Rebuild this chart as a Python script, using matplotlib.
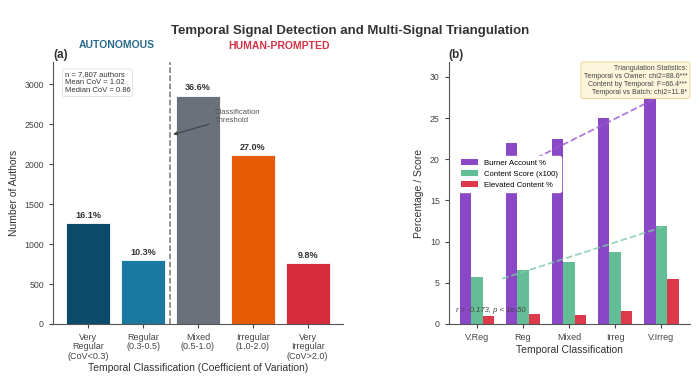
import numpy as np
import matplotlib
matplotlib.use("Agg")
import matplotlib.pyplot as plt

plt.rcParams['font.family'] = ['Liberation Sans', 'DejaVu Sans']

# panel (a) data
classes = ["Very\nRegular\n(CoV<0.3)", "Regular\n(0.3-0.5)", "Mixed\n(0.5-1.0)",
           "Irregular\n(1.0-2.0)", "Very\nIrregular\n(CoV>2.0)"]
counts = [1257, 804, 2857, 2108, 765]
pcts = [16.1, 10.3, 36.6, 27.0, 9.8]
colors_a = ["#0c4a6a", "#1b78a0", "#6b717b", "#e55c05", "#d62a3d"]

# panel (b) data
short_names = ["V.Reg", "Reg", "Mixed", "Irreg", "V.Irreg"]
burner = [18.5, 22.0, 22.5, 25.0, 30.3]
content = [5.7, 6.5, 7.5, 8.75, 11.9]
elevated = [1.0, 1.2, 1.05, 1.6, 5.5]
trend_x = [0.55, 4.1]
burner_trend = [18.1, 28.0]
content_trend = [5.5, 11.9]

fig = plt.figure(figsize=(7, 3.92), dpi=100)
ax1 = fig.add_axes([0.0757, 0.1735, 0.414, 0.668])
ax2 = fig.add_axes([0.641, 0.1735, 0.344, 0.668])

fig.suptitle("Temporal Signal Detection and Multi-Signal Triangulation",
             fontsize=9.5, fontweight='bold', color='#333333', y=0.922, va='center')

# ---- (a)
x = np.arange(len(classes))
bars = ax1.bar(x, counts, width=0.8, color=colors_a, edgecolor='white', linewidth=0.6)
for b, p in zip(bars, pcts):
    ax1.text(b.get_x() + b.get_width() / 2, b.get_height() + 40, f"{p:.1f}%",
             ha='center', va='bottom', fontsize=6.5, fontweight='bold', color='#333333')
ax1.axvline(1.5, color='#777777', linestyle='--', linewidth=1.1)
ax1.annotate("Classification\nThreshold", xy=(1.5, 2360), xytext=(2.3, 2600),
             fontsize=5.5, color='#555555', va='center',
             arrowprops=dict(arrowstyle='->', color='#444444', lw=0.9))
ax1.text(0.04, 0.965, "n = 7,807 authors\nMean CoV = 1.02\nMedian CoV = 0.86",
         transform=ax1.transAxes, fontsize=5.5, va='top', color='#333333',
         bbox=dict(boxstyle='round,pad=0.3', fc='white', ec='#dddddd', lw=0.6))
ax1.text(0.22, 1.055, "AUTONOMOUS", transform=ax1.transAxes, ha='center',
         fontsize=7.5, fontweight='bold', color='#2a6a8c')
ax1.text(0.78, 1.05, "HUMAN-PROMPTED", transform=ax1.transAxes, ha='center',
         fontsize=7.5, fontweight='bold', color='#d63347')
ax1.text(0.0, 1.015, "(a)", transform=ax1.transAxes, fontsize=8.5, fontweight='bold',
         color='#333333')
ax1.set_xticks(x)
ax1.set_xticklabels(classes, fontsize=6.5, color='#444444', linespacing=1.05)
ax1.tick_params(axis='y', labelsize=6.3, colors='#444444', length=3)
ax1.tick_params(axis='x', length=3, colors='#444444')
ax1.set_ylabel("Number of Authors", fontsize=7.5, color='#333333')
ax1.set_xlabel("Temporal Classification (Coefficient of Variation)", fontsize=7.5,
               color='#333333', labelpad=2)
ax1.set_ylim(0, 3275)

# ---- (b)
w = 0.25
ax2.plot(trend_x, burner_trend, linestyle='--', color='#9b59d0', linewidth=1.3, alpha=0.8, zorder=3)
ax2.plot(trend_x, content_trend, linestyle='--', color='#7cc9a6', linewidth=1.3, alpha=0.8, zorder=3)
ax2.bar(x - w, burner, width=w, color='#8a47c6', label='Burner Account %', zorder=2)
ax2.bar(x, content, width=w, color='#63bd96', label='Content Score (x100)', zorder=2)
ax2.bar(x + w, elevated, width=w, color='#dc3a4b', label='Elevated Content %', zorder=2)
ax2.set_xticks(x)
ax2.set_xticklabels(short_names, fontsize=6.5, color='#444444')
ax2.tick_params(axis='y', labelsize=6.3, colors='#444444', length=3)
ax2.tick_params(axis='x', length=3, colors='#444444')
ax2.set_ylabel("Percentage / Score", fontsize=7.5, color='#333333')
ax2.set_xlabel("Temporal Classification", fontsize=7.5, color='#333333', labelpad=2)
ax2.set_ylim(0, 31.8)
ax2.legend(loc='upper left', bbox_to_anchor=(0.02, 0.655), fontsize=5.6,
           frameon=True, framealpha=1, edgecolor='white', handlelength=2.2,
           borderpad=0.4, labelspacing=0.45)
ax2.text(0.03, 0.045, "r = -0.173, p < 1e-50", transform=ax2.transAxes,
         fontsize=5.5, style='italic', color='#444444', zorder=5)
ax2.text(0.99, 0.99, "Triangulation Statistics:\nTemporal vs Owner: chi2=88.6***\n"
         "Content by Temporal: F=66.4***\nTemporal vs Batch: chi2=11.8*",
         transform=ax2.transAxes, ha='right', va='top', fontsize=5.0, color='#444444',
         zorder=6, bbox=dict(boxstyle='round,pad=0.4', fc='#fdf6dc', ec='#e8d79a', lw=0.7))
ax2.text(0.0, 1.015, "(b)", transform=ax2.transAxes, fontsize=8.5, fontweight='bold',
         color='#333333')

for ax in (ax1, ax2):
    ax.spines['top'].set_visible(False)
    ax.spines['right'].set_visible(False)
    ax.spines['left'].set_color('#555555')
    ax.spines['bottom'].set_color('#555555')

fig.savefig("out.png", dpi=100)
